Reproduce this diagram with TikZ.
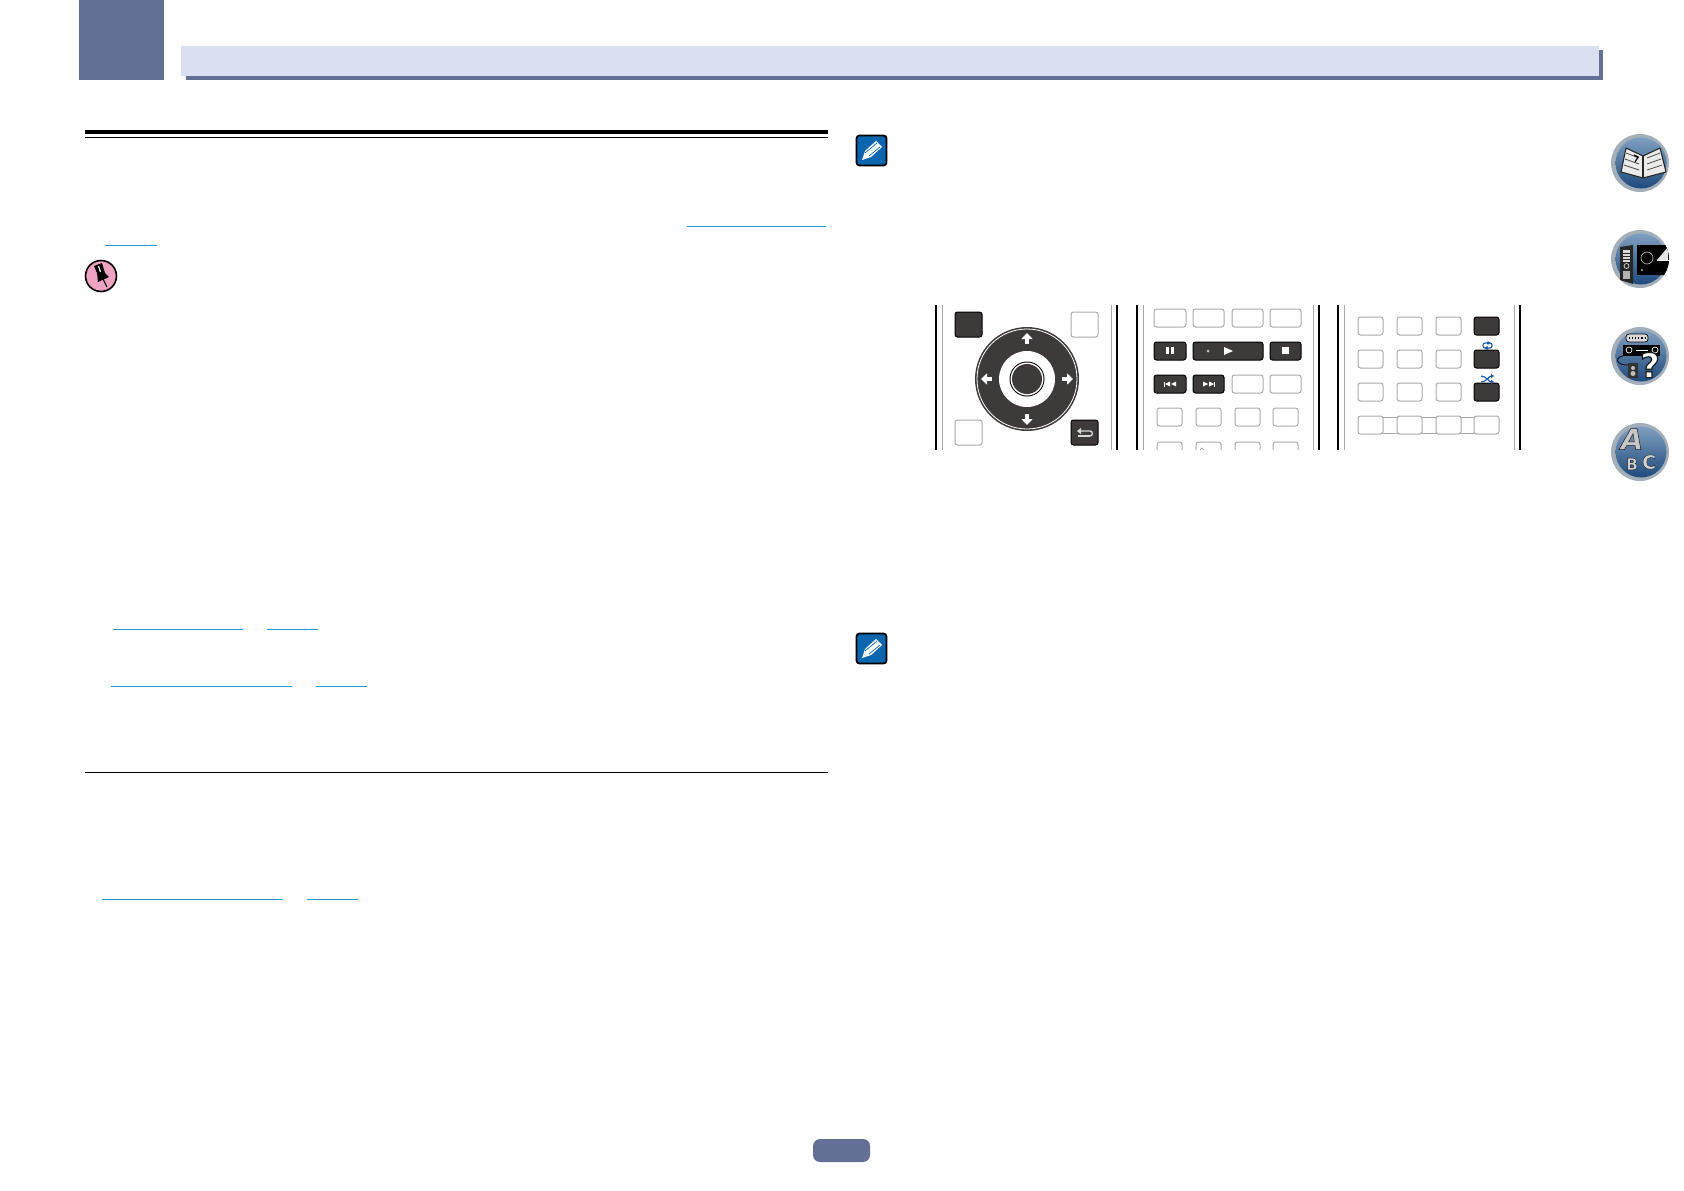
\documentclass[tikz,border=0pt]{standalone}
\usepackage{fontspec}
\newfontfamily\iconfont{DejaVu Sans}
\usetikzlibrary{arrows.meta}
\definecolor{tabblue}{HTML}{646F96}
\definecolor{bannerblue}{HTML}{DADFF1}
\definecolor{linkblue}{HTML}{1E9BCB}
\definecolor{btngray}{HTML}{A9A9A9}
\definecolor{btndark}{HTML}{3E3A39}
\definecolor{notefill}{HTML}{0B66B0}
\definecolor{pinpink}{HTML}{EEA3C2}
\definecolor{iconblue}{HTML}{1B5FA8}
\definecolor{ballrim}{HTML}{A3AEB8}
\definecolor{balltop}{HTML}{7F9FC0}
\definecolor{ballbottom}{HTML}{1F4A7D}
\newcommand{\outlined}[2]{\special{pdf:code 2 Tr #1 w 0.1 0.1 0.1 RG}#2\special{pdf:code 0 Tr}}
\tikzset{
  lightbtn/.style={draw=btngray, line width=1pt, rounded corners=2.5pt, fill=white},
  darkbtn/.style={draw=black, line width=1pt, rounded corners=2.5pt, fill=btndark},
  linkline/.style={linkblue, line width=1pt},
  edgeblack/.style={black, line width=2.6pt},
  edgegray/.style={btngray, line width=1pt},
  padarrow/.style={white, line width=3.6pt, -{Triangle[width=11pt,length=6pt]}},
  ballface/.style={top color=balltop, bottom color=ballbottom},
  bookline/.style={black!70, line width=.8pt},
  iconletter/.style={inner sep=0pt},
}
\begin{document}
\begin{tikzpicture}[x=1pt, y=-1pt]
  \useasboundingbox (0, 0) rectangle (1684, 1191);
  \fill[tabblue] (79, 0) rectangle (164, 80);
  \fill[tabblue] (186, 50) rectangle (1603, 80);
  \fill[bannerblue] (181, 46) rectangle (1599, 76);
  \fill[black] (85, 130) rectangle (828, 134);
  \draw[black, line width=1pt] (85, 137) -- (828, 137);
  \draw[black, line width=1pt] (85, 772) -- (828, 772);
  \draw[linkline] (687, 226) -- (826, 226);
  \draw[linkline] (105, 245) -- (157, 245);
  \draw[linkline] (113, 629) -- (243, 629);
  \draw[linkline] (267, 629) -- (318, 629);
  \draw[linkline] (111, 686) -- (292, 686);
  \draw[linkline] (316, 686) -- (367, 686);
  \draw[linkline] (102, 899) -- (283, 899);
  \draw[linkline] (307, 899) -- (358, 899);
  \fill[tabblue, rounded corners=7pt] (813, 1139) rectangle (870, 1162);
  \draw[fill=pinpink, line width=1.6pt] (101, 276) circle (15.5);
  \fill[black] (94, 266) -- (102, 263) -- (105, 273) -- (109, 277) -- (98, 282) -- (97, 273) -- cycle;
  \draw[black, line width=1pt] (103, 279) -- (107, 287);
  \draw[white, line width=1.2pt] (98.5, 266) -- (100.5, 272);
  \draw[fill=notefill, line width=1.8pt, rounded corners=3pt] (856.5, 135.5) rectangle (886.5, 165.5);
  \fill[white] (862, 160) -- (865, 151) -- (876, 141) -- (882, 147) -- (871, 157) -- cycle;
  \draw[notefill, line width=.7pt] (865, 153) -- (877, 143);
  \draw[notefill, line width=.7pt] (869, 156) -- (880, 147);
  \draw[fill=notefill, line width=1.8pt, rounded corners=3pt] (856.5, 633.5) rectangle (886.5, 663.5);
  \fill[white] (862, 658) -- (865, 649) -- (876, 639) -- (882, 645) -- (871, 655) -- cycle;
  \draw[notefill, line width=.7pt] (865, 651) -- (877, 641);
  \draw[notefill, line width=.7pt] (869, 654) -- (880, 645);
  \draw[edgeblack] (936, 305) -- (936, 450);
  \draw[edgegray] (942, 305) -- (942, 450);
  \draw[edgegray] (1111, 305) -- (1111, 450);
  \draw[edgeblack] (1117, 305) -- (1117, 450);
  \draw[edgeblack] (1137, 305) -- (1137, 450);
  \draw[edgegray] (1143, 305) -- (1143, 450);
  \draw[edgegray] (1313, 305) -- (1313, 450);
  \draw[edgeblack] (1319, 305) -- (1319, 450);
  \draw[edgeblack] (1338, 305) -- (1338, 450);
  \draw[edgegray] (1344, 305) -- (1344, 450);
  \draw[edgegray] (1514, 305) -- (1514, 450);
  \draw[edgeblack] (1520, 305) -- (1520, 450);
  \draw[darkbtn] (955, 312) rectangle (982, 337);
  \draw[lightbtn] (1071, 312) rectangle (1098, 337);
  \draw[lightbtn] (955, 420) rectangle (982, 445);
  \draw[darkbtn] (1071, 420) rectangle (1098, 445);
  \draw[white!85!black, line width=1.3pt, -{Triangle[width=6pt,length=4pt]}] (1090, 436) to[out=0, in=0, looseness=1.6] (1090, 431) -- (1077, 431);
  \draw[white!85!black, line width=1.3pt] (1078, 436) -- (1090, 436);
  \fill[btndark] (1027, 379) circle (52);
  \draw[white, line width=.8pt] (1027, 379) circle (50);
  \fill[white] (1027, 379) circle (28);
  \fill[black] (1027, 379) circle (17.5);
  \fill[white] (1027, 379) circle (16.5);
  \fill[btndark] (1027, 379) circle (15);
  \draw[padarrow] (1027, 344) -- (1027, 333);
  \draw[padarrow] (1027, 414) -- (1027, 425);
  \draw[padarrow] (992, 379) -- (981, 379);
  \draw[padarrow] (1062, 379) -- (1073, 379);
  \draw[lightbtn] (1154, 309) rectangle (1186, 327);
  \draw[lightbtn] (1193, 309) rectangle (1224, 327);
  \draw[lightbtn] (1232, 309) rectangle (1263, 327);
  \draw[lightbtn] (1270, 309) rectangle (1301, 327);
  \draw[darkbtn] (1154, 342) rectangle (1186, 360);
  \draw[darkbtn] (1193, 342) rectangle (1263, 360);
  \draw[darkbtn] (1270, 342) rectangle (1301, 360);
  \fill[white] (1166, 347) rectangle (1169, 354);
  \fill[white] (1171, 347) rectangle (1174, 354);
  \draw[white, line width=.4pt] (1208, 351) circle (1.2);
  \fill[white] (1224, 347) -- (1233, 351) -- (1224, 355) -- cycle;
  \fill[white] (1282, 347) rectangle (1289, 354);
  \draw[darkbtn] (1154, 375) rectangle (1186, 393);
  \draw[darkbtn] (1193, 375) rectangle (1224, 393);
  \draw[lightbtn] (1232, 375) rectangle (1263, 393);
  \draw[lightbtn] (1270, 375) rectangle (1301, 393);
  \fill[white] (1164, 381.5) rectangle (1165, 386.5);
  \fill[white] (1170, 381.5) -- (1165, 384) -- (1170, 386.5) -- cycle;
  \fill[white] (1176, 381.5) -- (1171, 384) -- (1176, 386.5) -- cycle;
  \fill[white] (1203, 381.5) -- (1208, 384) -- (1203, 386.5) -- cycle;
  \fill[white] (1209, 381.5) -- (1214, 384) -- (1209, 386.5) -- cycle;
  \fill[white] (1214, 381.5) rectangle (1215, 386.5);
  \draw[lightbtn] (1157, 408) rectangle (1182, 426);
  \draw[lightbtn] (1196, 408) rectangle (1221, 426);
  \draw[lightbtn] (1235, 408) rectangle (1260, 426);
  \draw[lightbtn] (1273, 408) rectangle (1298, 426);
  \draw[lightbtn, fill=none] (1157, 450) -- (1157, 442) -- (1182, 442) -- (1182, 450);
  \draw[lightbtn, fill=none] (1196, 450) -- (1196, 442) -- (1221, 442) -- (1221, 450);
  \draw[lightbtn, fill=none] (1235, 450) -- (1235, 442) -- (1260, 442) -- (1260, 450);
  \draw[lightbtn, fill=none] (1273, 450) -- (1273, 442) -- (1298, 442) -- (1298, 450);
  \draw[edgegray] (1200, 450) -- (1202, 448) -- (1204, 450);
  \draw[lightbtn] (1358, 317) rectangle (1383, 335);
  \draw[lightbtn] (1397, 317) rectangle (1422, 335);
  \draw[lightbtn] (1436, 317) rectangle (1461, 335);
  \draw[darkbtn] (1474, 317) rectangle (1499, 335);
  \draw[lightbtn] (1358, 350) rectangle (1383, 368);
  \draw[lightbtn] (1397, 350) rectangle (1422, 368);
  \draw[lightbtn] (1436, 350) rectangle (1461, 368);
  \draw[darkbtn] (1474, 350) rectangle (1499, 368);
  \draw[lightbtn] (1358, 383) rectangle (1383, 401);
  \draw[lightbtn] (1397, 383) rectangle (1422, 401);
  \draw[lightbtn] (1436, 383) rectangle (1461, 401);
  \draw[darkbtn] (1474, 383) rectangle (1499, 401);
  \draw[edgegray] (1383, 417) -- (1474, 417);
  \draw[edgegray] (1383, 433) -- (1474, 433);
  \draw[lightbtn] (1358, 416) rectangle (1383, 434);
  \draw[lightbtn] (1397, 416) rectangle (1422, 434);
  \draw[lightbtn] (1436, 416) rectangle (1461, 434);
  \draw[lightbtn] (1474, 416) rectangle (1499, 434);
  \draw[iconblue, line width=1.1pt, rounded corners=2pt] (1483, 343) rectangle (1492, 348);
  \draw[iconblue, line width=1.1pt, -{Triangle[width=4pt,length=3pt]}] (1487, 343) -- (1490.5, 343);
  \draw[iconblue, line width=1.1pt, -{Triangle[width=4pt,length=3pt]}] (1488, 348) -- (1484.5, 348);
  \draw[iconblue, line width=1.2pt, -{Triangle[width=4.5pt,length=3pt]}] (1481, 376) to[out=0, in=180] (1494, 382);
  \draw[iconblue, line width=1.2pt, -{Triangle[width=4.5pt,length=3pt]}] (1481, 382) to[out=0, in=180] (1494, 376);
  \fill[ballrim] (1640, 163) circle (29);
  \shade[ballface] (1641, 163) circle (25.5);
  \fill[white!92!black] (1626, 148) -- (1643, 156) -- (1660, 148) -- (1666, 172) -- (1643, 178) -- (1621, 172) -- cycle;
  \draw[black!85, line width=1.1pt, line join=round] (1626, 148) -- (1643, 156) -- (1660, 148) -- (1666, 172) -- (1643, 178) -- (1621, 172) -- cycle;
  \draw[black!85, line width=1.1pt] (1643, 156) -- (1643, 178);
  \draw[bookline] (1626, 153) -- (1639, 158);
  \draw[bookline] (1625, 159) -- (1639, 164);
  \draw[bookline] (1624, 165) -- (1639, 170);
  \draw[bookline] (1647, 158) -- (1660, 153);
  \draw[bookline] (1647, 164) -- (1661, 159);
  \draw[bookline] (1647, 170) -- (1662, 165);
  \draw[black, line width=1.2pt] (1634, 155) -- (1638, 157) -- (1635, 162);
  \fill[ballrim] (1640, 259) circle (29);
  \shade[ballface] (1641, 259) circle (25.5);
  \begin{scope}
    \clip (1640, 259) circle (29);
    \fill[black!85] (1620, 247) -- (1633, 245) -- (1633, 284) -- (1620, 280) -- cycle;
    \fill[white!85!black] (1623, 250) rectangle (1630, 262);
    \draw[black!85, line width=.7pt] (1623, 253) -- (1630, 253);
    \draw[black!85, line width=.7pt] (1623, 256) -- (1630, 256);
    \draw[black!85, line width=.7pt] (1623, 259) -- (1630, 259);
    \draw[white!85!black, line width=.7pt] (1626.5, 266) circle (2.5);
    \fill[white!70!black] (1623, 271) rectangle (1630, 279);
    \fill[black] (1637, 245) rectangle (1670, 275);
    \fill[white!90!black] (1668, 247) -- (1657, 260) -- (1668, 260) -- cycle;
    \draw[white, line width=.9pt] (1657, 260) -- (1670, 260);
    \draw[white!70!black, line width=.7pt] (1647, 258) circle (6);
    \fill[white!70!black] (1642, 270) circle (1.2);
  \end{scope}
  \fill[ballrim] (1640, 356) circle (29);
  \shade[ballface] (1641, 356) circle (25.5);
  \draw[fill=white!85!black, line width=.7pt, rounded corners=3pt] (1626, 334) rectangle (1648, 342);
  \draw[black, line width=1.1pt, dotted] (1629, 338) -- (1646, 338);
  \fill[black] (1623, 345) rectangle (1660, 356);
  \draw[white, line width=.7pt] (1629, 350) circle (3);
  \draw[white, line width=.7pt] (1655, 350) circle (3);
  \draw[white, line width=.8pt] (1636, 350) -- (1648, 350);
  \draw[black, line width=.8pt] (1628, 355) .. controls (1612, 356) and (1616, 366) .. (1629, 365);
  \fill[black!80] (1628, 363) rectangle (1638, 378);
  \fill[white!75!black] (1633, 368) circle (2);
  \fill[white!75!black] (1633, 373.5) circle (2.5);
  \node[inner sep=0pt, text=white, font=\fontsize{34}{34}\iconfont\bfseries] (helpmark) at (1650, 365) {\outlined{1.2}{?}};
  \fill[ballrim] (1640, 452) circle (29);
  \shade[ballface] (1641, 452) circle (25.5);
  \node[iconletter, text=white!78!black, font=\fontsize{29}{29}\iconfont\bfseries\itshape] (lettera) at (1632, 439) {\outlined{.5}{A}};
  \node[iconletter, text=white!82!black, font=\fontsize{16}{16}\iconfont\bfseries] (letterb) at (1632, 464) {\outlined{.35}{B}};
  \node[iconletter, text=white!82!black, font=\fontsize{19}{19}\iconfont\bfseries] (letterc) at (1649, 462) {\outlined{.35}{C}};
\end{tikzpicture}
\end{document}
